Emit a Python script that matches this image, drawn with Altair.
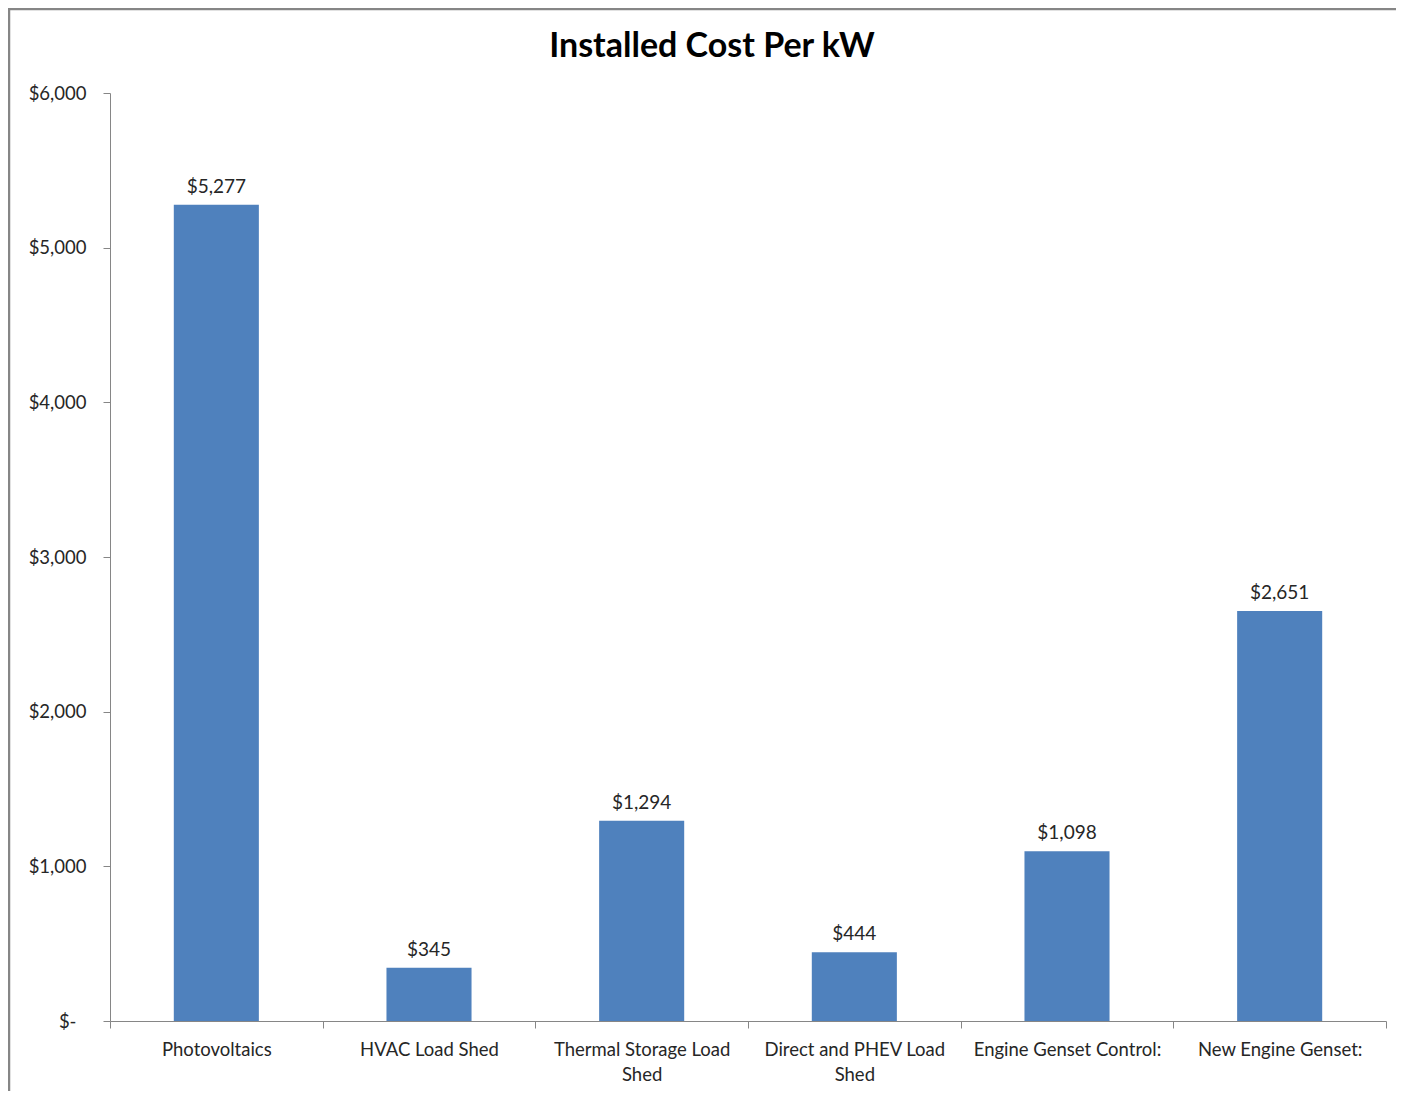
import altair as alt
import pandas as pd

categories = ["Photovoltaics", "HVAC Load Shed", "Thermal Storage Load Shed",
              "Direct and PHEV Load Shed", "Engine Genset Control:", "New Engine Genset:"]
values = [5277, 345, 1294, 444, 1098, 2651]
y_ticks = [0, 1000, 2000, 3000, 4000, 5000, 6000]
title_text = "Installed Cost Per kW"

df = pd.DataFrame({"category": categories, "value": values})
df["label"] = df["value"].map(lambda v: "${:,}".format(v))

FONT = "Lato"
TXT = "#262626"
AX = "#868686"

label_expr = (
    "datum.value == 'Thermal Storage Load Shed' ? ['Thermal Storage Load', 'Shed'] : "
    "datum.value == 'Direct and PHEV Load Shed' ? ['Direct and PHEV Load', 'Shed'] : datum.value"
)

x_enc = alt.X(
    "category:N", sort=categories, title=None,
    scale=alt.Scale(paddingInner=0, paddingOuter=0),
    axis=alt.Axis(labelAngle=0, tickBand="extent", tickSize=7, labelPadding=12,
                  labelExpr=label_expr,
                  labelFont=FONT, labelFontSize=18.5, labelColor=TXT, labelLineHeight=25,
                  domainColor=AX, tickColor=AX, labelLimit=300),
)
y_enc = alt.Y(
    "value:Q", title=None,
    scale=alt.Scale(domain=[0, 6000], nice=False),
    axis=alt.Axis(values=y_ticks, grid=False, tickSize=7,
                  labelPadding={"condition": {"test": "datum.value == 0", "value": 27}, "value": 17},
                  labelExpr="datum.value == 0 ? '$-' : '$' + format(datum.value, ',')",
                  labelFont=FONT, labelFontSize=18.5, labelColor=TXT,
                  domainColor=AX, tickColor=AX),
)

bars = alt.Chart(df).mark_bar(color="#4F81BD", width=alt.RelativeBandSize(0.4)).encode(x=x_enc, y=y_enc)
labels = alt.Chart(df).mark_text(baseline="bottom", dy=-8, font=FONT, fontSize=19, color=TXT).encode(
    x=alt.X("category:N", sort=categories), y="value:Q", text="label:N")

title = alt.Chart(pd.DataFrame({"t": [title_text]})).mark_text(
    font=FONT, fontSize=34, fontWeight="bold", color="black", baseline="middle", align="center"
).encode(x=alt.value(602), y=alt.value(-46), text="t:N")

frame = alt.Chart(pd.DataFrame({"d": [0]})).mark_rect(
    fill=None, stroke="#868686", strokeWidth=2.5
).encode(x=alt.value(-101), x2=alt.value(1400), y=alt.value(-84), y2=alt.value(1200))

chart = alt.layer(frame, bars, labels, title).properties(
    width=1276, height=928,
    padding={"left": 102, "top": 85, "right": 10, "bottom": 70},
    autosize=alt.AutoSizeParams(type="none"),
    background="white",
).configure_view(stroke=None)

chart.save("out.html", embed_options={"renderer": "svg", "actions": False})
